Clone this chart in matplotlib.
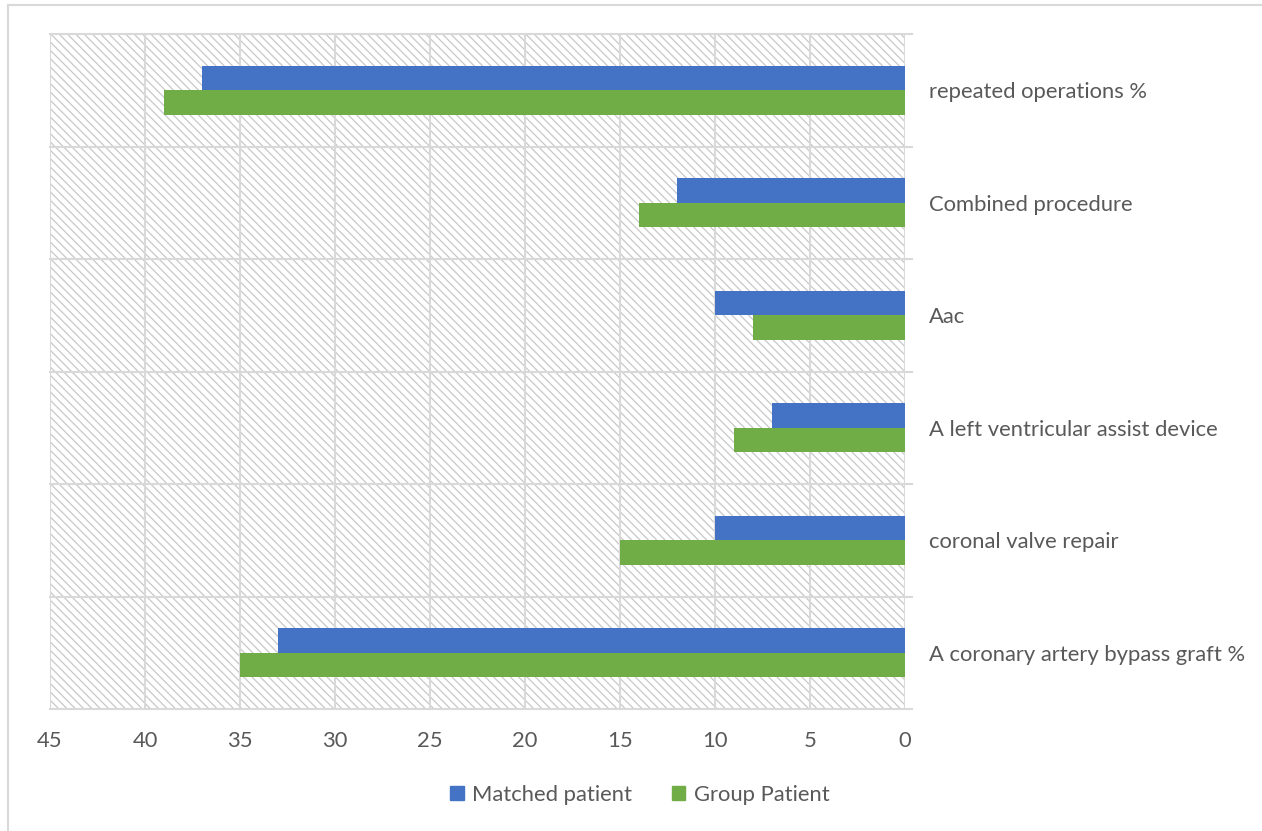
import matplotlib
matplotlib.use("Agg")
import matplotlib.pyplot as plt
from matplotlib.patches import Rectangle, Patch
from matplotlib.lines import Line2D
import numpy as np

# Categories listed bottom-to-top as they appear on the axis
categories = [
    "A coronary artery bypass graft %",
    "coronal valve repair",
    "A left ventricular assist device",
    "Aac",
    "Combined procedure",
    "repeated operations %",
]
matched_patient = [33, 10, 7, 10, 12, 37]
group_patient = [35, 15, 9, 8, 14, 39]
x_ticks = [45, 40, 35, 30, 25, 20, 15, 10, 5, 0]

BLUE = "#4472C4"
GREEN = "#70AD47"
GRID = "#d9d9d9"
TEXT = "#595959"
FS = 15.8

plt.rcParams["font.family"] = ["Lato", "DejaVu Sans"]
plt.rcParams["hatch.linewidth"] = 0.9

W, H = 1262, 831
fig = plt.figure(figsize=(W / 100, H / 100), dpi=100)
ax = fig.add_axes([50 / W, (H - 709) / H, (905 - 50) / W, (709 - 34) / H])

# Hatched plot-area background
ax.add_patch(Rectangle((0, 0), 1, 1, transform=ax.transAxes, facecolor="white",
                       edgecolor="#c8c8c8", hatch="\\\\\\\\", linewidth=0, zorder=0))

y = np.arange(len(categories))
bh = 0.218
ax.barh(y + bh / 2, matched_patient, height=bh, color=BLUE, zorder=3,
        label="Matched patient")
ax.barh(y - bh / 2, group_patient, height=bh, color=GREEN, zorder=3,
        label="Group Patient")

ax.set_xlim(45, 0)
ax.set_ylim(-0.5, len(categories) - 0.5)

# Vertical gridlines
for xv in x_ticks:
    ax.axvline(xv, color=GRID, lw=1.5, zorder=1)
# Horizontal category separators, extended slightly past the right edge
ext = 1 + 7 / 855
for b in np.arange(-0.5, len(categories), 1.0):
    ax.add_line(Line2D([0, ext], [b, b], transform=ax.get_yaxis_transform(),
                       color=GRID, lw=1.5, zorder=1, clip_on=False))

for s in ax.spines.values():
    s.set_visible(False)

ax.set_xticks(x_ticks)
ax.set_xticklabels([str(v) for v in x_ticks])
ax.yaxis.tick_right()
ax.set_yticks(y)
ax.set_yticklabels(categories)
ax.tick_params(axis="x", length=0, pad=16, labelsize=FS, labelcolor=TEXT)
ax.tick_params(axis="y", length=0, pad=17, labelsize=FS, labelcolor=TEXT)
for lbl in ax.get_yticklabels():
    lbl.set_horizontalalignment("left")

handles = [Patch(color=BLUE, label="Matched patient"),
           Patch(color=GREEN, label="Group Patient")]
fig.legend(handles=handles, loc="center", bbox_to_anchor=(640 / W, 1 - 795 / H),
           ncol=2, frameon=False, fontsize=FS, labelcolor=TEXT,
           handlelength=0.6, handleheight=0.6, handletextpad=0.4,
           columnspacing=1.8)

# Outer chart border (top and left edges)
fig.add_artist(Line2D([8 / W, 1], [1 - 5 / H, 1 - 5 / H], color=GRID, lw=1.5))
fig.add_artist(Line2D([8 / W, 8 / W], [0, 1 - 5 / H], color=GRID, lw=1.5))

fig.savefig("out.png", dpi=100, facecolor="white")
